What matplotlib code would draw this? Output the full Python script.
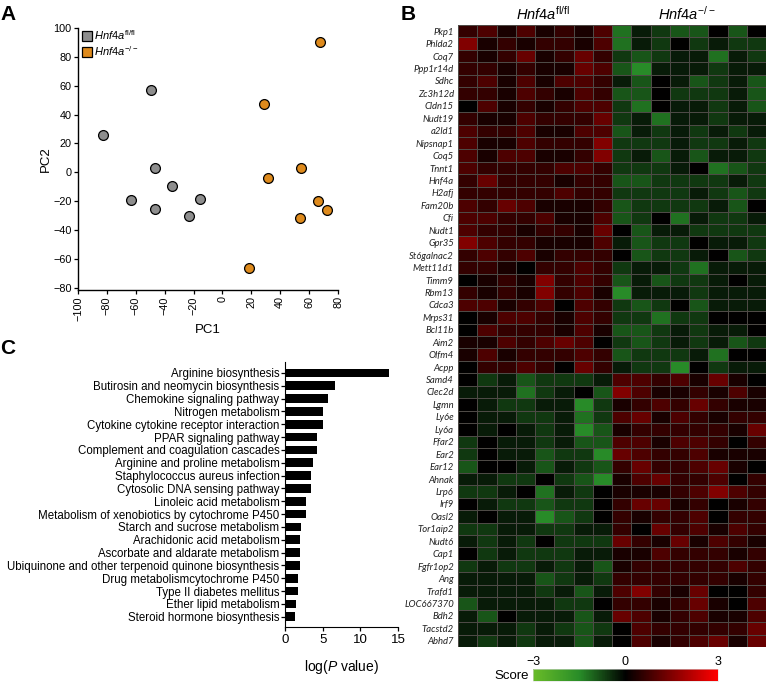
import matplotlib
matplotlib.use('Agg')
import matplotlib.pyplot as plt
import numpy as np
from matplotlib.colors import LinearSegmentedColormap
from matplotlib.lines import Line2D
from matplotlib.cm import ScalarMappable
from matplotlib.colors import Normalize

plt.rcParams['font.family'] = ['Liberation Sans', 'DejaVu Sans']
plt.rcParams['mathtext.fontset'] = 'custom'
plt.rcParams['mathtext.rm'] = 'Liberation Sans'
plt.rcParams['mathtext.it'] = 'Liberation Sans:italic'

# ---------------- Data ----------------
# Panel A: PCA
wt_pc1 = [-82.5, -49.5, -47, -35, -63.3, -47, -23.4, -15.3]
wt_pc2 = [26, 56.8, 2.8, -9.2, -19.3, -25.5, -30.4, -18.8]
ko_pc1 = [67.3, 28.8, 54.6, 31.7, 66.4, 72.4, 53.7, 18.6]
ko_pc2 = [90.1, 47.2, 3.1, -4.1, -19.5, -26, -31.5, -66.1]

# Panel B: heatmap (rows = genes, cols = 8 fl/fl + 8 -/- samples), read as levels
genes = ['Pkp1', 'Phlda2', 'Coq7', 'Ppp1r14d', 'Sdhc', 'Zc3h12d', 'Cldn15', 'Nudt19',
         'a2ld1', 'Nipsnap1', 'Coq5', 'Tnnt1', 'Hnf4a', 'H2afj', 'Fam20b', 'Cfi',
         'Nudt1', 'Gpr35', 'St6galnac2', 'Mett11d1', 'Timm9', 'Rbm13', 'Cdca3',
         'Mrps31', 'Bcl11b', 'Aim2', 'Olfm4', 'Acpp', 'Samd4', 'Clec2d', 'Lgmn',
         'Ly6e', 'Ly6a', 'Ffar2', 'Ear2', 'Ear12', 'Ahnak', 'Lrp6', 'Irf9', 'Oasl2',
         'Tor1aip2', 'Nudt6', 'Cap1', 'Fgfr1op2', 'Ang', 'Trafd1', 'LOC667370',
         'Bdh2', 'Tacstd2', 'Abhd7']
levels = [
    [2, 3, 1, 3, 1, 2, 1, 3, -4, -1, -2, -3, -3, 0, -3, 0],
    [5, 1, 2, 1, 2, 2, 1, 3, -4, -1, -2, 0, -2, -1, -2, -2],
    [2, 1, 2, 4, 1, 2, 4, 2, -2, -3, -2, -1, -1, -4, -1, -2],
    [2, 2, 1, 2, 1, 1, 4, 3, -3, -5, -1, -1, -1, -2, -1, -1],
    [2, 3, 1, 3, 1, 3, 3, 2, -1, -3, 0, -1, -3, -2, -1, -3],
    [2, 2, 1, 3, 2, 1, 3, 2, -3, -3, 0, -2, -2, -2, -1, -3],
    [0, 3, 1, 2, 1, 2, 3, 3, -2, -4, 0, -1, -1, -2, -1, -3],
    [2, 1, 1, 3, 2, 2, 2, 4, -2, -1, -4, -1, -1, -2, -1, -1],
    [3, 2, 2, 3, 1, 1, 3, 3, -3, -1, -2, -1, -2, -1, -2, -1],
    [3, 1, 1, 3, 2, 2, 2, 5, -2, -2, -2, -1, -2, -2, -1, -2],
    [3, 1, 3, 3, 1, 1, 2, 5, -2, -1, -3, -1, -3, -1, -1, -2],
    [3, 2, 2, 2, 2, 3, 3, 2, -2, -2, -2, -1, 0, -4, -3, -2],
    [2, 4, 2, 2, 2, 1, 2, 2, -3, -3, -2, -2, -2, -2, -1, -2],
    [2, 2, 2, 2, 2, 3, 2, 2, -2, -2, -2, -2, -1, -2, -3, -2],
    [3, 2, 4, 3, 1, 1, 1, 2, -3, -2, -2, -2, -2, -1, -3, 0],
    [3, 3, 2, 2, 3, 1, 1, 3, -3, -2, 0, -4, -1, -2, -2, -1],
    [3, 2, 2, 1, 2, 2, 1, 4, 0, -3, -1, -1, -2, -2, -2, -2],
    [5, 3, 2, 2, 1, 1, 1, 3, -1, -3, -2, -2, 0, -1, -1, -2],
    [2, 3, 2, 3, 1, 2, 2, 2, 0, -3, -2, -2, -1, 0, -3, -2],
    [2, 2, 1, 0, 2, 2, 3, 2, -2, -1, -1, -2, -4, -1, -1, -1],
    [0, 1, 2, 1, 5, 2, 3, 2, -3, -1, -3, -2, -2, -1, 0, -1],
    [2, 1, 2, 1, 5, 2, 3, 1, -5, -1, -1, -1, -2, -1, -1, -1],
    [3, 3, 1, 2, 3, 0, 3, 2, -2, -3, -2, 0, -3, -1, -1, -1],
    [0, 1, 3, 3, 2, 1, 3, 2, -2, -2, -4, -2, -2, 0, 0, 0],
    [0, 3, 2, 2, 2, 1, 3, 1, -3, -3, -2, -1, -2, -1, -1, 0],
    [1, 1, 3, 2, 3, 4, 3, 0, -2, -3, -2, -1, -2, -1, -3, -2],
    [1, 3, 1, 2, 2, 2, 3, 2, -3, -2, -2, -2, -1, -4, 0, 0],
    [0, 2, 2, 3, 2, 0, 4, 2, -1, -2, -2, -5, 0, -2, -1, -1],
    [0, -2, -1, -3, -2, -2, -2, -1, 3, 3, 2, 3, 1, 4, 1, 0],
    [-1, -1, -1, -4, -2, -1, 0, -3, 5, 3, 1, 1, 2, 1, 3, 1],
    [0, -1, -2, -2, -1, -1, -5, -2, 1, 2, 3, 2, 4, 2, 1, 1],
    [0, -1, -1, -2, -2, -1, -4, -2, 3, 4, 1, 3, 2, 1, 2, 2],
    [0, -1, 0, -1, -2, -1, -5, -3, 1, 2, 2, 2, 2, 2, 1, 4],
    [-2, 0, -1, -1, -2, -1, -3, -3, 3, 3, 1, 3, 3, 2, 0, 2],
    [-2, 0, -1, -1, -3, -2, -2, -5, 4, 3, 2, 2, 3, 1, 1, 1],
    [-3, 0, 0, -1, -3, -1, -2, -3, 2, 4, 2, 2, 3, 4, 1, 0],
    [-1, -1, -2, -2, 0, -2, -3, -5, 1, 3, 4, 2, 2, 3, 0, 2],
    [-2, -2, -1, 0, -4, -1, -2, 0, 1, 1, 1, 2, 3, 5, 3, 2],
    [0, -1, -2, -2, -3, -2, -2, 0, 2, 4, 4, 1, 2, 0, 1, 2],
    [-1, 0, -1, -1, -5, -3, -2, 0, 2, 1, 2, 2, 3, 0, 2, 2],
    [-2, -2, -1, -1, -2, -2, -1, -1, 2, 0, 4, 2, 3, 1, 3, 2],
    [-1, -2, -1, -2, 0, -2, -2, -2, 4, 2, 1, 4, 1, 3, 2, 1],
    [0, -2, -1, -2, -2, -2, -1, -1, 1, 1, 3, 2, 2, 2, 1, 2],
    [-2, -1, -2, -2, -1, -2, -1, -3, 1, 2, 2, 2, 2, 2, 3, 2],
    [-1, -1, -1, -1, -3, -2, -1, -2, 2, 2, 2, 2, 2, 2, 1, 2],
    [-1, -1, -1, -1, -2, -1, -3, -1, 3, 5, 2, 1, 4, 0, 0, 2],
    [-3, -1, -1, -1, -1, -2, -2, 0, 2, 2, 1, 2, 4, 1, 0, 3],
    [-1, -3, 0, -1, -1, -1, -3, -1, 4, 3, 1, 2, 3, 1, 1, 3],
    [-1, -1, -1, -2, -1, -2, -3, -2, 0, 3, 2, 2, 2, 2, 2, 4],
    [-1, -2, -1, -2, -1, -1, -3, -1, 0, 3, 1, 2, 3, 4, 1, 4],
]
level_to_score = 0.3
group_labels = [r'$\mathit{Hnf4a}^{\mathrm{fl/fl}}$', r'$\mathit{Hnf4a}^{\mathrm{-/-}}$']

# Panel C: pathways
pathways = ['Arginine biosynthesis', 'Butirosin and neomycin biosynthesis',
            'Chemokine signaling pathway', 'Nitrogen metabolism',
            'Cytokine cytokine receptor interaction', 'PPAR signaling pathway',
            'Complement and coagulation cascades', 'Arginine and proline metabolism',
            'Staphylococcus aureus infection', 'Cytosolic DNA sensing pathway',
            'Linoleic acid metabolism', 'Metabolism of xenobiotics by cytochrome P450',
            'Starch and sucrose metabolism', 'Arachidonic acid metabolism',
            'Ascorbate and aldarate metabolism',
            'Ubiquinone and other terpenoid quinone biosynthesis',
            'Drug metabolismcytochrome P450', 'Type II diabetes mellitus',
            'Ether lipid metabolism', 'Steroid hormone biosynthesis']
logp = [13.8, 6.7, 5.7, 5.1, 5.0, 4.2, 4.25, 3.7, 3.5, 3.45,
        2.8, 2.8, 2.1, 2.05, 2.0, 2.0, 1.7, 1.7, 1.47, 1.33]

# ---------------- Figure ----------------
W, H = 766, 683
fig = plt.figure(figsize=(W / 100, H / 100), dpi=100)


def ax_px(l, t, r, b):
    return fig.add_axes([l / W, 1 - b / H, (r - l) / W, (b - t) / H])


# ---- Panel A ----
axA = ax_px(78, 28, 338, 290)
axA.scatter(wt_pc1, wt_pc2, s=50, c='#8e8e8e', edgecolors='black', linewidths=0.9, zorder=3)
axA.scatter(ko_pc1, ko_pc2, s=50, c='#de8a1c', edgecolors='black', linewidths=0.9, zorder=3)
axA.set_xlim(-100, 80)
axA.set_ylim(-81.5, 100)
axA.set_xticks(np.arange(-100, 81, 20))
axA.set_yticks(np.arange(-80, 101, 20))
axA.tick_params(axis='x', labelrotation=90, labelsize=7.8, length=3, width=0.9, pad=1.5)
axA.tick_params(axis='y', labelsize=7.8, length=3, width=0.9, pad=1.5)
for s in ['top', 'right']:
    axA.spines[s].set_visible(False)
for s in ['left', 'bottom']:
    axA.spines[s].set_linewidth(1.0)
axA.set_xlabel('PC1', fontsize=9.5, labelpad=2)
axA.set_ylabel('PC2', fontsize=9.5, labelpad=1)
handles = [Line2D([], [], marker='s', ls='none', markersize=6.5, markerfacecolor='#8e8e8e',
                  markeredgecolor='black', markeredgewidth=0.9),
           Line2D([], [], marker='s', ls='none', markersize=6.5, markerfacecolor='#de8a1c',
                  markeredgecolor='black', markeredgewidth=0.9)]
axA.legend(handles, group_labels, loc='upper left', bbox_to_anchor=(0.02, 1.0),
           frameon=False, fontsize=8, handlelength=0.7, handletextpad=0.3,
           borderpad=0, borderaxespad=0, labelspacing=0.25)

# ---- Panel B ----
cmap = LinearSegmentedColormap.from_list(
    'score', [(0.0, (105 / 255, 188 / 255, 40 / 255)), (0.25, (40 / 255, 140 / 255, 40 / 255)),
              (0.5, (0, 0, 0)), (1.0, (1, 0, 0))])
scores = np.array(levels, dtype=float) * level_to_score
axB = ax_px(458, 25, 766, 647)
axB.pcolormesh(scores, cmap=cmap, vmin=-3, vmax=3, edgecolors='#4e4a46', linewidth=0.6)
axB.set_xlim(0, scores.shape[1])
axB.set_ylim(scores.shape[0], 0)
axB.set_xticks([])
axB.set_yticks(np.arange(len(genes)) + 0.5)
axB.set_yticklabels(genes, fontsize=6.8, fontstyle='italic', family=['Lato', 'DejaVu Sans'],
                    color='#222222')
axB.tick_params(axis='y', length=0, pad=3)
for s in axB.spines.values():
    s.set_visible(False)
fig.text(543 / W, 1 - 14 / H, group_labels[0], ha='center', va='center', fontsize=10.5)
fig.text(687 / W, 1 - 14 / H, group_labels[1], ha='center', va='center', fontsize=10.5)

# colorbar
cax = ax_px(533, 669, 718, 681)
cb = fig.colorbar(ScalarMappable(norm=Normalize(-3, 3), cmap=cmap), cax=cax,
                  orientation='horizontal', ticks=[-3, 0, 3])
cax.xaxis.set_ticks_position('top')
cax.tick_params(length=0, labelsize=9, pad=1)
cb.outline.set_linewidth(0.4)
cb.outline.set_edgecolor('#dddddd')
fig.text(529 / W, 1 - 676 / H, 'Score', ha='right', va='center', fontsize=9.5)

# ---- Panel C ----
axC = ax_px(285, 362, 398, 627)
ypos = np.arange(len(pathways))
axC.barh(ypos, logp, height=0.68, color='black')
axC.set_xlim(0, 15)
axC.set_ylim(len(pathways) - 0.2, -0.85)
axC.set_yticks(ypos)
axC.set_yticklabels(pathways, fontsize=8.3)
axC.set_xticks([0, 5, 10, 15])
axC.tick_params(axis='y', length=3, width=0.9, pad=1)
axC.tick_params(axis='x', length=3, width=0.9, labelsize=9.5, pad=2)
for s in ['top', 'right']:
    axC.spines[s].set_visible(False)
axC.set_xlabel(r'log($\mathit{P}$ value)', fontsize=10, labelpad=9)

# panel letters
fig.text(8 / W, 1 - 15 / H, 'A', fontsize=15, fontweight='bold', ha='center', va='center')
fig.text(408 / W, 1 - 15 / H, 'B', fontsize=15, fontweight='bold', ha='center', va='center')
fig.text(8 / W, 1 - 348 / H, 'C', fontsize=15, fontweight='bold', ha='center', va='center')

fig.savefig('out.png', dpi=100)
